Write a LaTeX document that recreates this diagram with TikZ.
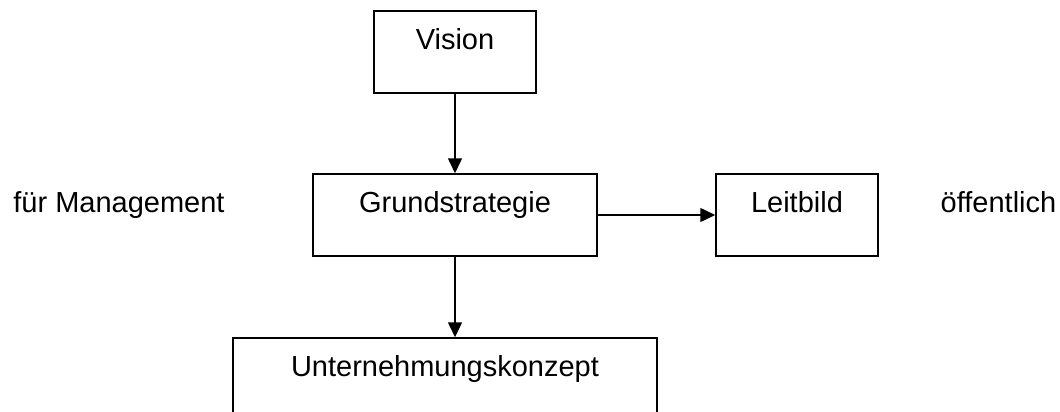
\documentclass[tikz,border=0pt]{standalone}
\usepackage{fontspec}
\setmainfont{Liberation Sans}
\usetikzlibrary{arrows.meta, positioning}

\begin{document}
\begin{tikzpicture}[x=1pt, y=-1pt, font=\fontsize{29}{34}\selectfont,
  stage/.style={draw, line width=1.5pt, inner sep=0pt, text height=38.3pt, text depth=43.7pt, minimum height=82pt},
  flow/.style={line width=1.5pt, -{Triangle[length=15pt, width=14pt]}}]
\clip (0,0) rectangle (1060,412);
\node[stage, minimum width=162pt] (vision) at (455,52) {Vision};
\node[stage, minimum width=284pt] (grund) at (455,215) {Grundstrategie};
\node[stage, minimum width=162pt] (leit) at (797,215) {Leitbild};
\node[stage, minimum width=424pt] (konzept) at (445,379) {Unternehmungskonzept};
\node[anchor=base] (mgmt) at (119,212) {für Management};
\node[anchor=base] (pub) at (998.5,212) {öffentlich};
\draw[flow] (vision.south) -- (grund.north);
\draw[flow] (grund.east) -- (leit.west);
\draw[flow] (grund.south) -- (grund.south |- konzept.north);
\end{tikzpicture}
\end{document}
